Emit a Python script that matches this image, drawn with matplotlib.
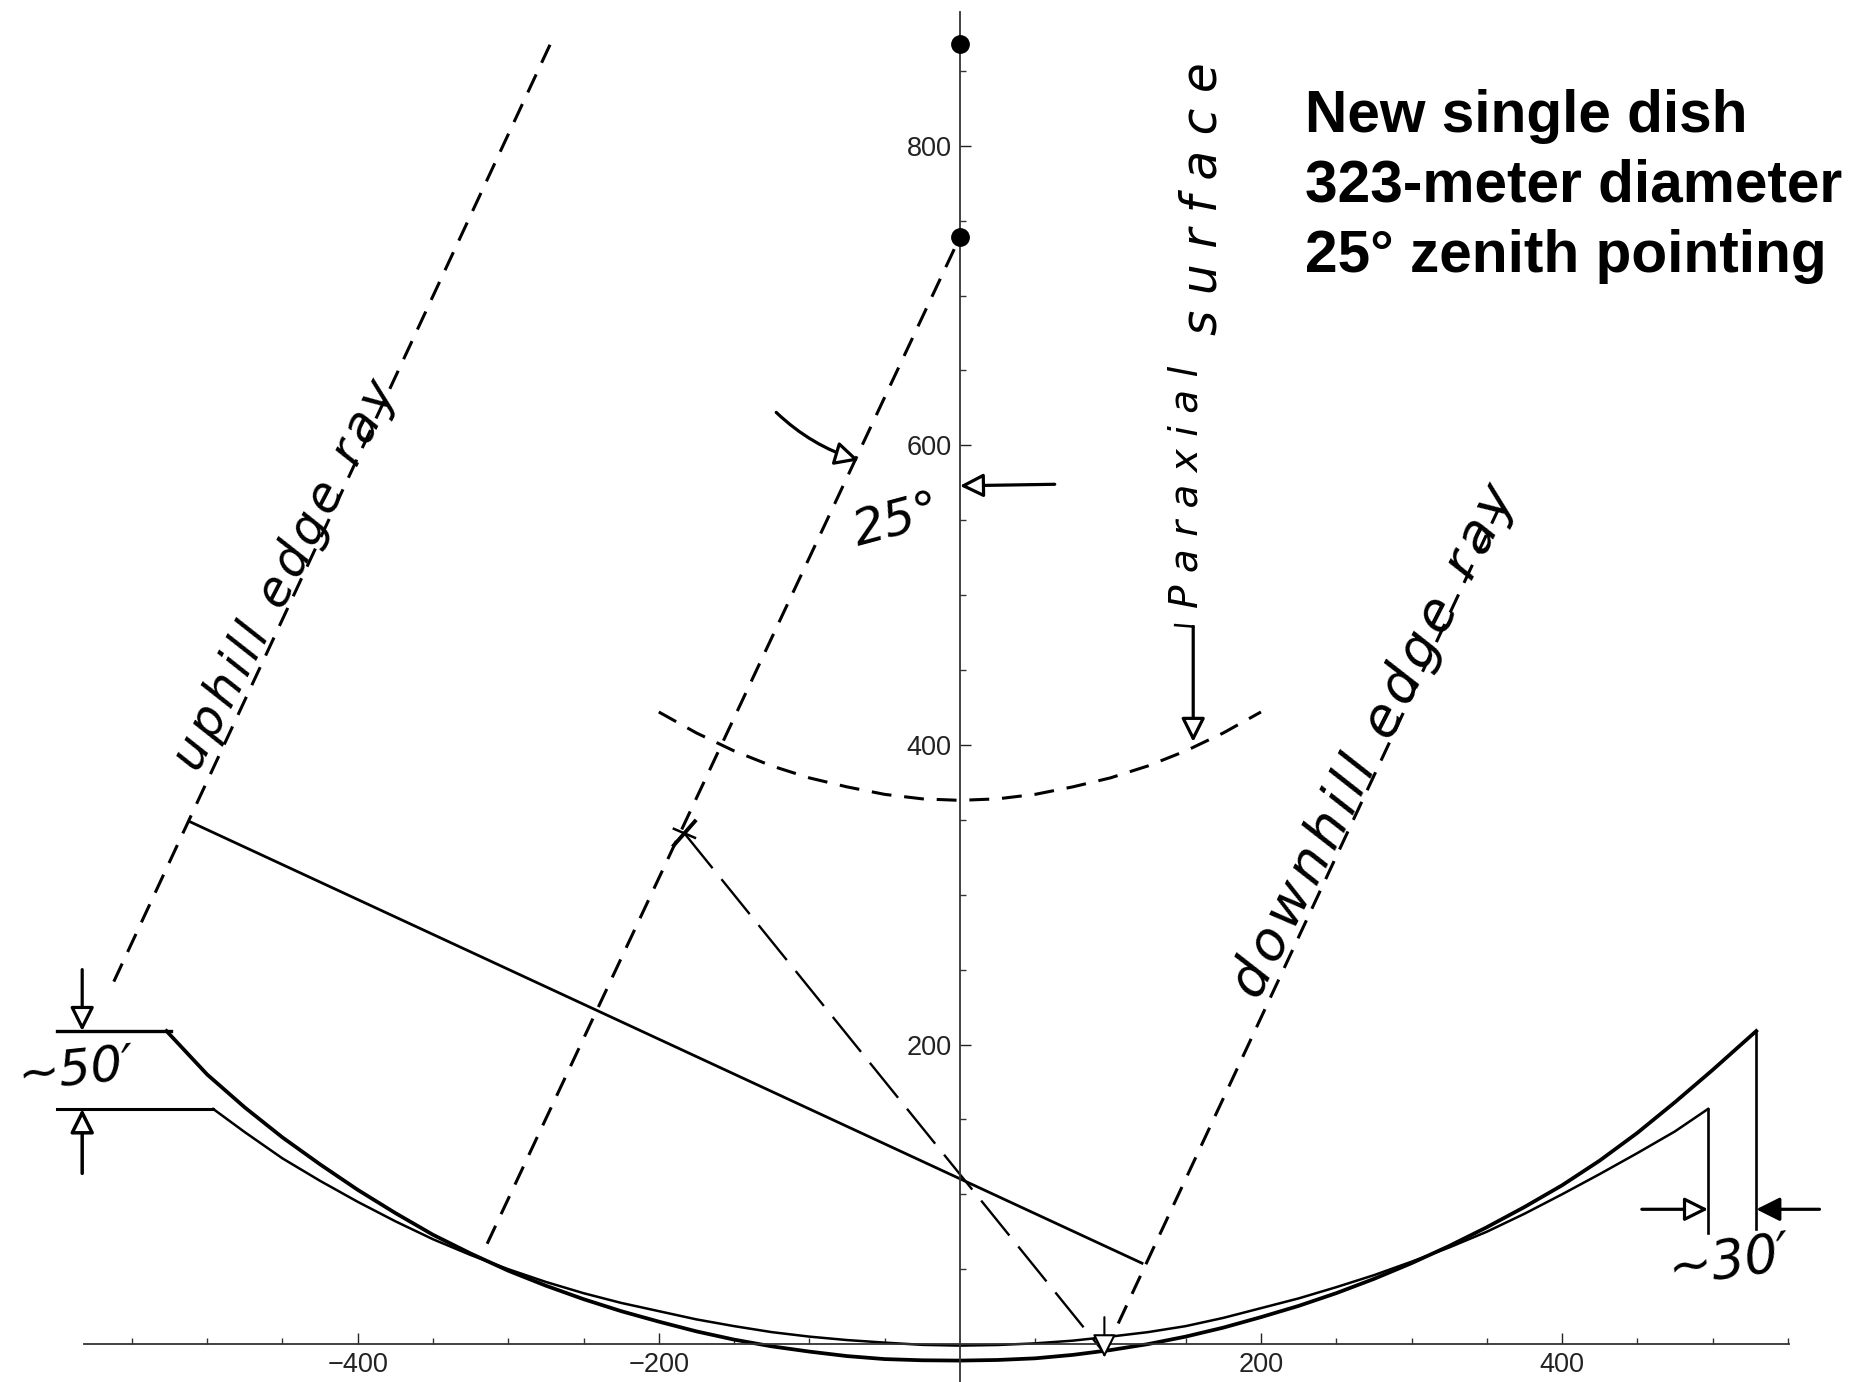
import matplotlib
matplotlib.use("Agg")
import matplotlib.pyplot as plt
from matplotlib.ticker import FixedLocator, FixedFormatter

# Dish profiles
thick_x = [-527, -500, -475, -450, -425, -400, -375, -350, -325, -300, -275, -250, -225, -200, -175, -150, -125, -100, -75, -50, -25, 0,
           25, 50, 75, 100, 125, 150, 175, 200, 225, 250, 275, 300, 325, 350, 375, 400, 425, 450, 475, 500, 529]
thick_y = [209, 180, 158, 138, 120, 103, 87.5, 73, 60.5, 49, 39, 30, 22, 15, 8.5, 3, -1.5, -5, -8, -10, -10.8, -11,
           -10.6, -9.5, -7.2, -4, 0, 5, 11, 18, 25.5, 34, 43.5, 54, 65.5, 78, 91.5, 106, 122.5, 141, 161.5, 183, 209]
thin_x = [-496, -475, -450, -425, -400, -375, -350, -325, -300, -275, -250, -225, -200, -175, -150, -125, -100, -75, -50, -25, 0,
          25, 50, 75, 100, 125, 150, 175, 200, 225, 250, 275, 300, 325, 350, 375, 400, 425, 450, 475, 497]
thin_y = [157, 141.5, 124, 109, 95, 82, 70, 59.5, 50, 41.5, 34, 27.5, 22, 16.5, 12, 8, 5, 2.7, 1, -0.5, -1,
          -0.6, 0.5, 2.3, 5, 8, 12, 17.5, 24, 30.5, 38, 46, 55, 64.5, 75, 87, 100, 113.5, 127.5, 142, 157]

# Rays and lines
uphill_x, uphill_y = [-562, -272], [242, 868]
centre_x, centre_y = [-314, 0], [67, 739]
downhill_x, downhill_y = [96, 358], [-6, 558]
chord_x, chord_y = [-512, 121], [349, 54]
fold_x, fold_y = [-183, 96], [341, -6]
paraxial_x = [-200, -175, -150, -125, -100, -75, -50, -25, 0, 25, 50, 75, 100, 125, 150, 175, 200]
paraxial_y = [422, 408, 396, 386, 378, 372, 367, 364, 363, 364, 367, 372, 378, 386, 396, 408, 422]
dots_x, dots_y = [0, 0], [868, 739]

x_major = [-400, -200, 200, 400]
y_major = [200, 400, 600, 800]
x_minor = [-550, -500, -450, -350, -300, -250, -150, -100, -50, 50, 100, 150, 250, 300, 350, 450, 500, 550]
y_minor = [50, 100, 150, 250, 300, 350, 450, 500, 550, 650, 700, 750, 850]

plt.rcParams['font.family'] = ['Liberation Sans', 'DejaVu Sans']
fig = plt.figure(figsize=(18.52, 13.82), dpi=100)
ax = fig.add_axes([0, 0, 1, 1])
ax.set_xlim(-637.6, 592.6)
ax.set_ylim(-25.3, 897.3)
for s in ['top', 'right']:
    ax.spines[s].set_visible(False)
ax.spines['bottom'].set_position(('data', 0))
ax.spines['left'].set_position(('data', 0))
ax.spines['bottom'].set_bounds(-582, 551)
ax.spines['left'].set_bounds(-25, 889)
for s in ['bottom', 'left']:
    ax.spines[s].set_linewidth(1.3)
    ax.spines[s].set_color('#333333')
ax.patch.set_alpha(0)

ax.xaxis.set_major_locator(FixedLocator(x_major))
ax.xaxis.set_major_formatter(FixedFormatter(['\u2212400', '\u2212200', '200', '400']))
ax.xaxis.set_minor_locator(FixedLocator(x_minor))
ax.yaxis.set_major_locator(FixedLocator(y_major))
ax.yaxis.set_major_formatter(FixedFormatter(['200', '400', '600', '800']))
ax.yaxis.set_minor_locator(FixedLocator(y_minor))
ax.tick_params(which='major', direction='in', length=8, width=1, labelsize=19.5, colors='#222222', pad=6)
ax.tick_params(which='minor', direction='in', length=4.5, width=1, colors='#333333')

k = 'black'
ax.plot(thick_x, thick_y, color=k, lw=2.7, solid_joinstyle='round')
ax.plot(thin_x, thin_y, color=k, lw=1.8, solid_joinstyle='round')
ax.plot([-600, -524], [209, 209], color=k, lw=2.4)
ax.plot([-600, -496], [157, 157], color=k, lw=2.2)
ax.plot([497, 497], [157, 74], color=k, lw=1.9)
ax.plot([529, 529], [209, 77], color=k, lw=1.9)
ax.plot(chord_x, chord_y, color=k, lw=2.0)
for xs, ys in [(uphill_x, uphill_y), (centre_x, centre_y), (downhill_x, downhill_y)]:
    ax.plot(xs, ys, color=k, lw=2.2, dashes=(6.5, 4.2))
ax.plot(fold_x, fold_y, color=k, lw=1.7, dashes=(19, 6))
ax.plot(paraxial_x, paraxial_y, color=k, lw=2.2, dashes=(6.5, 4.2))
ax.plot([-190, -176], [333, 349], color=k, lw=2.8)
ax.plot([-190, -176], [344, 338], color=k, lw=1.8)
ax.plot(dots_x, dots_y, 'o', color=k, ms=12.5, zorder=5, clip_on=False)


def arrow(start, end, face, rad=0.0, lw=2.3):
    ax.annotate('', xy=end, xytext=start,
                arrowprops=dict(arrowstyle='-|>,head_length=0.9,head_width=0.45', fc=face, ec=k, lw=lw,
                                shrinkA=0, shrinkB=0, mutation_scale=16,
                                connectionstyle=f'arc3,rad={rad}'))


arrow((-583, 250), (-583, 209), 'white')
arrow((-583, 114), (-583, 157), 'white', lw=2.5)
arrow((453, 90), (497, 90), 'white')
arrow((571, 90), (529, 90), k)
arrow((-122, 622), (-67, 590), 'white', rad=0.12)
arrow((63, 574), (0, 573), 'white')
arrow((155, 479), (155, 402), 'white')
ax.plot([143, 155], [480, 479], color=k, lw=1.8)
arrow((96, 18), (96, -9), 'white', lw=1.5)

hs = '\u200a'
hand = dict(family=['DejaVu Sans'], style='oblique', color=k, ha='center', va='center',
            rotation_mode='anchor', fontweight='normal')
base = dict(hand, va='baseline')
ax.text(-440, 509, hs.join('uphill edge ray'), fontsize=35, rotation=62.5, **base)
ax.text(284, 398, hs.join('downhill edge ray'), fontsize=39, rotation=63, **base)
ax.text(150.6, 572, 'P a r a x i a l', fontsize=28, rotation=90, **hand)
ax.text(161, 765, 's u r f a c e', fontsize=35, rotation=90, **hand)
ax.text(-587, 183, '~50\u2032', fontsize=36, rotation=6, **hand)
ax.text(511, 55, '~30\u2032', fontsize=38, rotation=8, **hand)
ax.text(-42, 550, '25\u00b0', fontsize=36, rotation=15, **hand)

title_lines = ['New single dish', '323-meter diameter', '25\u00b0 zenith pointing']
title_y = [809, 763, 716]
for line, y in zip(title_lines, title_y):
    ax.text(229, y, line, fontsize=42.2, fontweight='bold', color='black', ha='left', va='baseline')

fig.savefig('out.png', dpi=100, facecolor='white')
